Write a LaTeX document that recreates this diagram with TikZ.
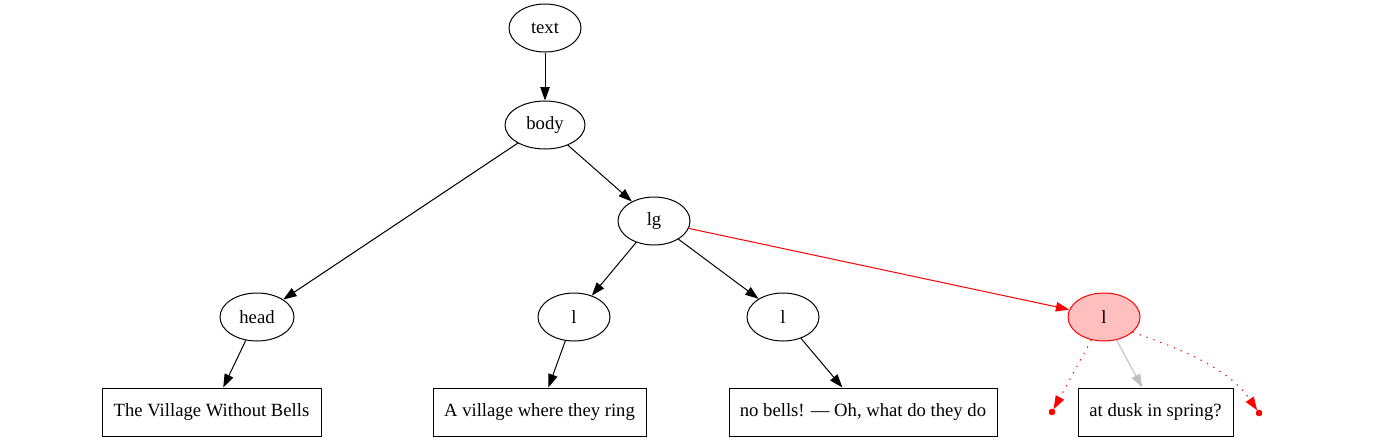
\documentclass[tikz,border=0pt]{standalone}
\usepackage{fontspec}
\setmainfont{Liberation Serif}
\usetikzlibrary{arrows.meta,shapes.geometric}
\begin{document}
\begin{tikzpicture}[x=0.75pt,y=-0.75pt,
  every node/.style={font=\fontsize{14}{16}\selectfont, inner sep=0pt},
  ell/.style={ellipse, draw, line width=0.75pt, minimum width=72*0.75pt, minimum height=48*0.75pt},
  rbox/.style={rectangle, draw, line width=0.75pt, minimum height=48*0.75pt, inner xsep=8pt},
  pt/.style={circle, fill=red, draw=red, minimum size=4.5pt, inner sep=0pt},
  edge/.style={-{Triangle[length=10pt,width=7pt]}, line width=0.75pt},
  redge/.style={edge, red},
  gedge/.style={edge, draw=black!25, -{Triangle[length=10pt,width=7pt,fill=black!25]}},
  dedge/.style={red, line width=0.75pt, dash pattern=on 1pt off 4.5pt, -{Triangle[length=10pt,width=7pt]}}]
\useasboundingbox (0,0) rectangle (1376,443);
\node[ell] (text) at (545,28) {text};
\node[ell, minimum width=80*0.75pt] (body) at (545,125) {body};
\node[ell] (lg) at (654,221) {lg};
\node[ell, minimum width=74*0.75pt] (head) at (257,317) {head};
\node[ell] (l1) at (574,317) {l};
\node[ell] (l2) at (783,317) {l};
\node[ell, draw=red, fill=pink] (l3) at (1104,317) {l};
\node[rbox, minimum width=219*0.75pt] (b1) at (211.5,412) {The Village Without Bells};
\node[rbox, minimum width=213*0.75pt] (b2) at (539.5,412) {A village where they ring};
\node[rbox, minimum width=268*0.75pt] (b3) at (863,412) {no bells! — Oh, what do they do};
\node[rbox, minimum width=155*0.75pt] (b4) at (1155.5,412) {at dusk in spring?};
\node[pt] (p1) at (1052,412) {};
\node[pt] (p2) at (1259,413) {};
\draw[edge] (text) -- (body);
\draw[edge] (body) -- (head);
\draw[edge] (body) -- (lg);
\draw[edge] (lg) -- (l1);
\draw[edge] (lg) -- (l2);
\draw[redge] (lg) -- (l3);
\draw[edge] (head) -- (b1);
\draw[edge] (l1) -- (b2);
\draw[edge] (l2) -- (b3);
\draw[gedge] (l3) -- (b4);
\draw[dedge] (l3) -- (p1);
\draw[dedge] (l3.-28) .. controls (1185,350) and (1230,370) .. (p2);
\end{tikzpicture}
\end{document}
